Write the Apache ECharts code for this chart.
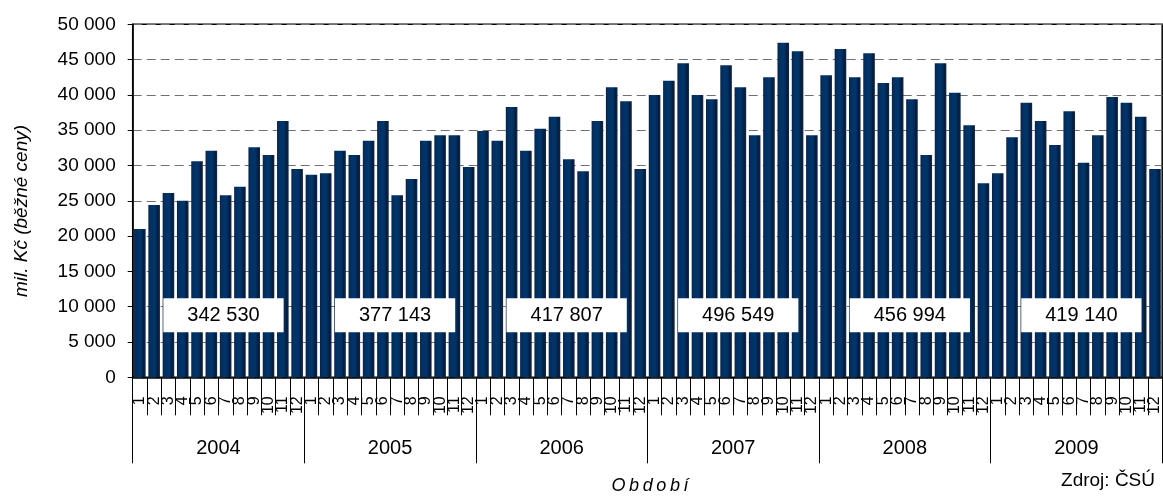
<!DOCTYPE html>
<html>
<head>
<meta charset="utf-8">
<script src="https://cdn.jsdelivr.net/npm/echarts@6/dist/echarts.min.js"></script>
<style>
  html, body { margin: 0; padding: 0; background: #fff; }
  #main { width: 1163px; height: 498px; }
</style>
</head>
<body>
<div id="main"></div>
<script>
// měsíční hodnoty (mil. Kč, běžné ceny)
var years = ['2004', '2005', '2006', '2007', '2008', '2009'];
var months = ['1', '2', '3', '4', '5', '6', '7', '8', '9', '10', '11', '12'];
var values2004 = [21000, 24400, 26100, 25000, 30600, 32100, 25800, 27000, 32600, 31500, 36300, 29500];
var values2005 = [28700, 28900, 32100, 31500, 33500, 36300, 25800, 28100, 33500, 34300, 34300, 29800];
var values2006 = [34900, 33500, 38300, 32100, 35200, 36900, 30900, 29200, 36300, 41100, 39100, 29500];
var values2007 = [40000, 42000, 44500, 40000, 39400, 44200, 41100, 34300, 42500, 47400, 46200, 34300];
var values2008 = [42800, 46500, 42500, 45900, 41700, 42500, 39400, 31500, 44500, 40300, 35700, 27500];
var values2009 = [28900, 34000, 38900, 36300, 32900, 37700, 30400, 34300, 39700, 38900, 36900, 29500];
var annualTotals = [342530, 377143, 417807, 496549, 456994, 419140];

var yearly = [values2004, values2005, values2006, values2007, values2008, values2009];
var categories = [];
var monthly = [];
years.forEach(function (y, i) {
  months.forEach(function (m, j) {
    categories.push(y + '-' + m);
    monthly.push(yearly[i][j]);
  });
});

function fmt(v) {
  return String(v).replace(/\B(?=(\d{3})+(?!\d))/g, ' ');
}

var labelLevel = 8800; // svislá poloha rámečků s ročními součty
var totalsData = years.map(function (y, i) {
  return { value: [y, labelLevel], total: annualTotals[i] };
});

var font = 'Liberation Sans, Arial, sans-serif';
var myChart = echarts.init(document.getElementById('main'));
var option = {
  backgroundColor: '#fff',
  animation: false,
  textStyle: { fontFamily: font },
  grid: {
    left: 132.7,
    top: 24.3,
    width: 1034.4,
    height: 353,
    show: true,
    borderColor: '#000',
    borderWidth: 1.5,
    backgroundColor: '#fff'
  },
  xAxis: [
    {
      type: 'category',
      data: categories,
      axisLine: { lineStyle: { color: '#000', width: 1.5 } },
      axisTick: { show: true, interval: 0, length: 38, lineStyle: { color: '#000', width: 1 } },
      axisLabel: {
        interval: 0,
        rotate: 90,
        margin: 19,
        fontSize: 16,
        color: '#000',
        fontFamily: font,
        formatter: function (v) { return v.split('-')[1]; }
      }
    },
    {
      type: 'category',
      data: years,
      position: 'bottom',
      axisLine: { show: false },
      axisTick: { show: true, length: 86, lineStyle: { color: '#000', width: 1 } },
      axisLabel: { margin: 61, fontSize: 20, color: '#000', fontFamily: font }
    }
  ],
  yAxis: {
    type: 'value',
    min: 0,
    max: 50000,
    interval: 5000,
    axisLine: { show: true, lineStyle: { color: '#000', width: 1.5 } },
    axisTick: { show: true, length: 5, lineStyle: { color: '#000' } },
    axisLabel: {
      fontSize: 19,
      color: '#000',
      margin: 17,
      fontFamily: font,
      formatter: function (v) { return fmt(v); }
    },
    splitLine: {
      lineStyle: { color: '#707070', type: [9, 5], width: 1 }
    }
  },
  series: [
    {
      type: 'bar',
      data: monthly,
      barCategoryGap: '19%',
      itemStyle: {
        color: {
          type: 'linear', x: 0, y: 0, x2: 1, y2: 0,
          colorStops: [
            { offset: 0, color: '#0b1f3f' },
            { offset: 0.12, color: '#002e5f' },
            { offset: 0.5, color: '#00366c' },
            { offset: 0.7, color: '#002c5a' },
            { offset: 0.82, color: '#0a1a34' },
            { offset: 1, color: '#0c2a55' }
          ]
        }
      }
    },
    {
      type: 'scatter',
      xAxisIndex: 1,
      data: totalsData,
      symbolSize: 0,
      itemStyle: { color: '#fff', opacity: 1 },
      z: 5,
      label: {
        show: true,
        position: 'inside',
        offset: [5, 0],
        formatter: function (p) { return fmt(p.data.total); },
        fontSize: 20,
        color: '#000',
        fontFamily: font,
        backgroundColor: '#fff',
        opacity: 1,
        lineHeight: 22,
        padding: [6, 24]
      }
    }
  ],
  graphic: [
    {
      type: 'text',
      x: 22,
      y: 211,
      rotation: Math.PI / 2,
      style: {
        text: 'mil. Kč (běžné ceny)',
        font: 'italic 19px ' + font,
        fill: '#000',
        textAlign: 'center',
        textVerticalAlign: 'middle'
      }
    },
    {
      type: 'text',
      x: 650,
      y: 486,
      style: {
        text: 'O\u2009b\u2009d\u2009o\u2009b\u2009í',
        font: 'italic 18px ' + font,
        fill: '#000',
        textAlign: 'center',
        textVerticalAlign: 'middle'
      }
    },
    {
      type: 'text',
      x: 1155,
      y: 481,
      style: {
        text: 'Zdroj: ČSÚ',
        font: '19px ' + font,
        fill: '#000',
        textAlign: 'right',
        textVerticalAlign: 'middle'
      }
    }
  ]
};
myChart.setOption(option);
</script>
</body>
</html>
